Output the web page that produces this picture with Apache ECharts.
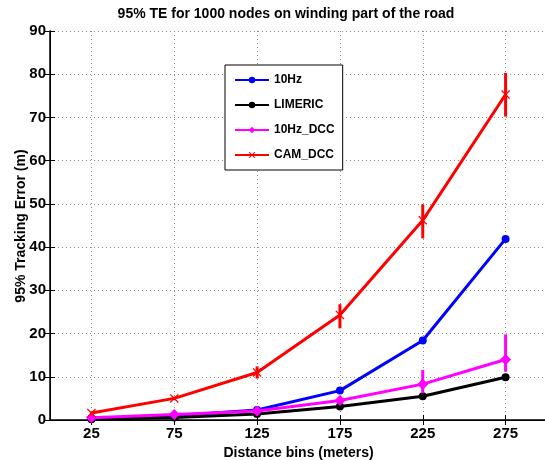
<!DOCTYPE html>
<html>
<head>
<meta charset="utf-8">
<script src="https://cdn.jsdelivr.net/npm/echarts@6/dist/echarts.min.js"></script>
<style>
html,body{margin:0;padding:0;background:#fff;}
#c{width:545px;height:460px;}
</style>
</head>
<body>
<div id="c"></div>
<script>
// ---- data ----
var categories = [25, 75, 125, 175, 225, 275];
var yTicks = [0, 10, 20, 30, 40, 50, 60, 70, 80, 90];
var hz10 = [0.3, 1.0, 2.3, 6.8, 18.4, 41.9];
var limeric = [0.2, 0.6, 1.4, 3.1, 5.5, 9.9];
var hz10dcc = [0.5, 1.3, 2.1, 4.5, 8.3, 14.0];
var hz10dccLow = [0.4, 1.1, 1.8, 3.8, 6.2, 11.2];
var hz10dccHigh = [0.6, 1.5, 2.4, 5.5, 11.6, 19.8];
var camdcc = [1.6, 5.0, 11.0, 24.3, 46.2, 75.3];
var camdccLow = [1.3, 4.6, 9.6, 21.2, 42.0, 70.2];
var camdccHigh = [1.9, 5.4, 12.4, 26.8, 49.9, 80.3];
var seriesNames = ['10Hz', 'LIMERIC', '10Hz_DCC', 'CAM_DCC'];

function pairs(vals) { return categories.map(function (c, i) { return [c, vals[i]]; }); }
function errs(lo, hi) { return categories.map(function (c, i) { return [c, lo[i], hi[i]]; }); }

function errRender(color) {
  return function (params, api) {
    var a = api.coord([api.value(0), api.value(1)]);
    var b = api.coord([api.value(0), api.value(2)]);
    return { type: 'line', shape: { x1: a[0], y1: a[1], x2: b[0], y2: b[1] },
             style: { stroke: color, lineWidth: 3 } };
  };
}

var xPath = 'path://M1,0 L5,4 L9,0 L10,1 L6,5 L10,9 L9,10 L5,6 L1,10 L0,9 L4,5 L0,1 Z';
var font = 'Liberation Sans, Arial, sans-serif';
var chart = echarts.init(document.getElementById('c'), null, { renderer: 'canvas' });

var gridCfg = { left: 50, top: 31, width: 497, height: 389, outerBoundsMode: 'none', containLabel: false };
var dotted = { show: true, lineStyle: { color: '#8c8c8c', type: [1, 3], width: 1 } };

chart.setOption({
  animation: false,
  backgroundColor: '#fff',
  graphic: [{
    type: 'text', x: 286, y: 14,
    style: { text: '95% TE for 1000 nodes on winding part of the road', font: 'bold 14px ' + font,
             fill: '#000', textAlign: 'center', textVerticalAlign: 'middle' }
  }, {
    type: 'text', x: 21, y: 226, rotation: Math.PI / 2,
    style: { text: '95% Tracking Error (m)', font: 'bold 14px ' + font,
             fill: '#000', textAlign: 'center', textVerticalAlign: 'middle' }
  }],
  grid: gridCfg,
  legend: {
    data: seriesNames, orient: 'vertical', left: 225, top: 65,
    backgroundColor: '#fff', borderColor: '#000', borderWidth: 1,
    padding: [9, 8, 9, 9], itemWidth: 34, itemHeight: 8, itemGap: 13,
    textStyle: { fontFamily: font, fontWeight: 'bold', fontSize: 12, color: '#000' }
  },
  xAxis: [{
    type: 'value', min: 0, max: 300,
    name: 'Distance bins (meters)', nameLocation: 'middle', nameGap: 22,
    nameTextStyle: { fontFamily: font, fontWeight: 'bold', fontSize: 14, color: '#000' },
    axisLine: { lineStyle: { color: '#000', width: 1.5 } },
    axisTick: { inside: true, length: 5, customValues: categories, lineStyle: { color: '#000' } },
    axisLabel: { customValues: categories, fontFamily: font, fontWeight: 'bold', fontSize: 15, color: '#000', margin: 6 },
    splitLine: dotted
  }, {
    type: 'value', min: 0, max: 300, position: 'top',
    axisLine: { lineStyle: { color: '#000', width: 1 } },
    axisTick: { inside: true, length: 5, customValues: categories, lineStyle: { color: '#000' } },
    axisLabel: { show: false }, splitLine: { show: false }
  }],
  yAxis: [{
    type: 'value', min: 0, max: 90, interval: 10,
    axisLine: { show: true, lineStyle: { color: '#000', width: 1.5 } },
    axisTick: { show: true, inside: true, length: 5, lineStyle: { color: '#000' } },
    axisLabel: { fontFamily: font, fontWeight: 'bold', fontSize: 15, color: '#000', margin: 4,
                 formatter: function (v) { return yTicks.indexOf(v) >= 0 ? String(v) : ''; } },
    splitLine: dotted
  }, {
    type: 'value', min: 0, max: 90, interval: 10, position: 'right',
    axisLine: { show: true, lineStyle: { color: '#000', width: 1 } },
    axisTick: { show: true, inside: true, length: 5, lineStyle: { color: '#000' } },
    axisLabel: { show: false }, splitLine: { show: false }
  }],
  series: [
    { name: '10Hz', type: 'line', data: pairs(hz10), color: '#0000ff', symbol: 'circle', symbolSize: 8,
      lineStyle: { width: 3 }, z: 3 },
    { name: 'LIMERIC', type: 'line', data: pairs(limeric), color: '#000000', symbol: 'circle', symbolSize: 8,
      lineStyle: { width: 3 }, z: 3 },
    { name: '10Hz_DCC', type: 'line', data: pairs(hz10dcc), color: '#ff00ff', symbol: 'diamond', symbolSize: 11,
      lineStyle: { width: 3 }, z: 4 },
    { type: 'custom', data: errs(hz10dccLow, hz10dccHigh), renderItem: errRender('#ff00ff'), z: 4, silent: true },
    { name: 'CAM_DCC', type: 'line', data: pairs(camdcc), color: '#ff0000', symbol: xPath, symbolSize: 9,
      lineStyle: { width: 3 }, z: 5 },
    { type: 'custom', data: errs(camdccLow, camdccHigh), renderItem: errRender('#ff0000'), z: 5, silent: true }
  ]
});
</script>
</body>
</html>
